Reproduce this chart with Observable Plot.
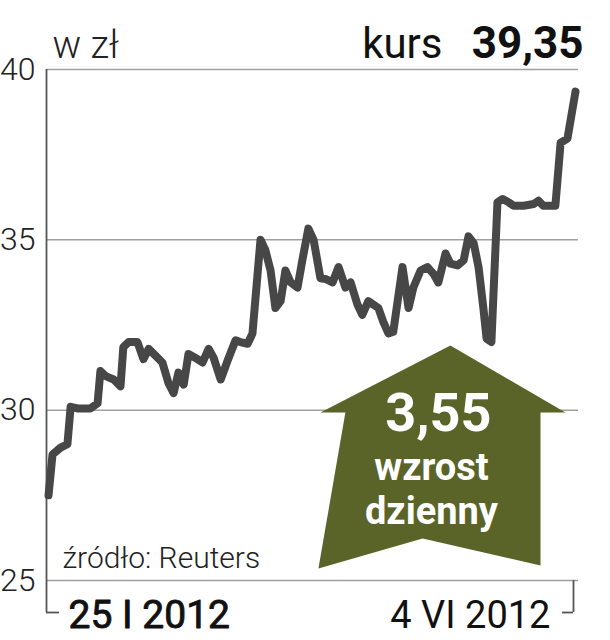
<!DOCTYPE html>
<html>
<head>
<meta charset="utf-8">
<script src="https://cdn.jsdelivr.net/npm/d3@7"></script>
<script src="https://cdn.jsdelivr.net/npm/@observablehq/plot@0.6"></script>
<style>
  html, body { margin: 0; padding: 0; background: #fff; }
  svg { display: block; }
</style>
</head>
<body>
<div id="chart"></div>
<script>
// Days since 25 I 2012 and closing price (zł)
const days = [0,1.0,3.0,4.7,5.5,7.2,10.4,12.2,12.9,14.2,16.2,17.9,18.6,19.9,22.1,23.6,24.9,26.6,28.3,29.8,31.1,32.3,33.6,34.8,37.0,38.3,39.8,41.0,42.8,44.5,46.5,47.7,49.5,50.7,52.7,53.9,55.2,56.4,57.7,58.9,60.2,61.9,63.1,64.6,65.9,67.6,68.9,70.6,72.1,73.8,75.1,76.8,78.0,79.5,82.0,83.2,84.5,85.7,88.0,89.5,90.7,92.5,94.2,95.7,96.9,98.7,99.9,101.7,103.2,104.4,105.7,106.9,108.1,108.9,110.1,111.6,112.9,114.4,115.6,118.1,120.6,121.8,123.0,126.0,127.3,129.0,131];
const prices = [27.5,28.7,28.9,29.0,30.1,30.05,30.05,30.2,31.15,31.0,30.9,30.7,31.85,32.0,32.0,31.5,31.8,31.6,31.4,30.8,30.5,31.1,30.75,31.65,31.5,31.4,31.8,31.55,30.9,31.45,32.05,32.0,31.95,32.25,35.0,34.7,34.1,33.0,33.2,34.1,33.75,33.6,34.4,35.33,35.0,33.87,33.85,33.75,34.2,33.6,33.75,33.1,32.8,33.2,33.0,32.6,32.25,32.3,34.2,33.0,33.6,34.1,34.2,34.0,33.75,34.6,34.3,34.25,34.4,35.1,34.9,34.2,33.0,32.1,32.0,36.1,36.2,36.1,36.0,36.0,36.05,36.15,36.0,36.0,37.85,37.97,39.35];

const yTicks = [25, 30, 35, 40];
const xTickDays = [0, 131];
const xTickLabels = ["25 I 2012", "4 VI 2012"];
const xMin = -0.5, xMax = 131.75;

// Arrow annotation outline (in data units)
const arrowDays = [67.6, 99.9, 128.5, 122.3, 122.3, 93.0, 67.1, 73.8];
const arrowPrices = [29.93, 31.9, 29.93, 29.93, 25.44, 26.23, 25.35, 29.93];
const changeValue = "3,55";
const changeLines = ["wzrost", "dzienny"];
const changePos = {day: 96.9, price: 29.40};
const captionPos = {day: 95.2, price: 26.645};

const unit = "w zł";
const kursLabel = "kurs";
const kursValue = "39,35";
const source = "źródło: Reuters";

const series = days.map((d, i) => ({day: d, price: prices[i]}));
const arrow = arrowDays.map((d, i) => ({day: d, price: arrowPrices[i]}));

const axisColor = "#555";
const gridColor = "#a0a0a0";

const chart = Plot.plot({
  width: 610,
  height: 640,
  marginLeft: 46,
  marginRight: 32,
  marginTop: 69,
  marginBottom: 60,
  style: {fontFamily: "Roboto, 'Liberation Sans', sans-serif", background: "#fff", color: "#222"},
  x: {domain: [xMin, xMax], axis: null},
  y: {domain: [25, 40], axis: null},
  marks: [
    Plot.ruleY(yTicks, {stroke: gridColor, strokeWidth: 1.5}),
    Plot.ruleX([xMin], {y1: 40, y2: 25, insetBottom: -32, stroke: axisColor, strokeWidth: 1.8}),
    Plot.ruleY([25], {x1: xMin, x2: xMin, insetRight: -13, dy: 32, stroke: axisColor, strokeWidth: 1.8}),
    Plot.ruleX([xMax], {y1: 25, y2: 25, insetBottom: -32, dx: -5, stroke: axisColor, strokeWidth: 1.8}),
    Plot.ruleY([25], {x1: xMax, x2: xMax, insetLeft: -11, dy: 32, dx: -5, stroke: axisColor, strokeWidth: 1.8}),
    Plot.axisY(yTicks, {tickSize: 0, tickPadding: 11, fontSize: 32, fontWeight: 300, fill: "#222", label: null, tickFormat: d => String(d)}),
    Plot.line(series, {x: "day", y: "price", stroke: "#474747", strokeWidth: 8, strokeLinejoin: "round", strokeLinecap: "round"}),
    Plot.line(arrow, {x: "day", y: "price", fill: "#5b6428", stroke: "none"}),
    Plot.text([changePos], {x: "day", y: "price", text: () => changeValue, fontSize: 54, fill: "#fff", fontWeight: "bold", textAnchor: "middle", lineAnchor: "bottom"}),
    Plot.text([captionPos], {x: "day", y: "price", text: () => changeLines.join("\n"), fontSize: 38, lineHeight: 1.18, fill: "#fff", fontWeight: "bold", textAnchor: "middle", lineAnchor: "bottom"}),
    Plot.text([unit], {text: d => d, frameAnchor: "top-left", dx: 6, dy: -12, textAnchor: "start", lineAnchor: "bottom", fontSize: 38, fontWeight: 300, fill: "#222"}),
    Plot.text([kursLabel], {text: d => d, frameAnchor: "top-right", dx: -136, dy: -12, textAnchor: "end", lineAnchor: "bottom", fontSize: 42, fill: "#111"}),
    Plot.text([kursValue], {text: d => d, frameAnchor: "top-right", dx: 5, dy: -12, textAnchor: "end", lineAnchor: "bottom", fontSize: 44, fontWeight: "bold", fill: "#111"}),
    Plot.text([source], {text: d => d, frameAnchor: "bottom-left", dx: 16, dy: -13, textAnchor: "start", lineAnchor: "bottom", fontSize: 30, fontWeight: 300, fill: "#222"}),
    Plot.text([0], {x: d => xTickDays[d], text: d => xTickLabels[d], frameAnchor: "bottom", dx: 20, dy: 47, textAnchor: "start", lineAnchor: "bottom", fontSize: 39, fill: "#111", stroke: "#111", strokeWidth: 0.9}),
    Plot.text([1], {x: d => xTickDays[d], text: d => xTickLabels[d], frameAnchor: "bottom", dx: -25, dy: 47, textAnchor: "end", lineAnchor: "bottom", fontSize: 38, fill: "#111"})
  ]
});
document.getElementById("chart").appendChild(chart);
</script>
</body>
</html>
